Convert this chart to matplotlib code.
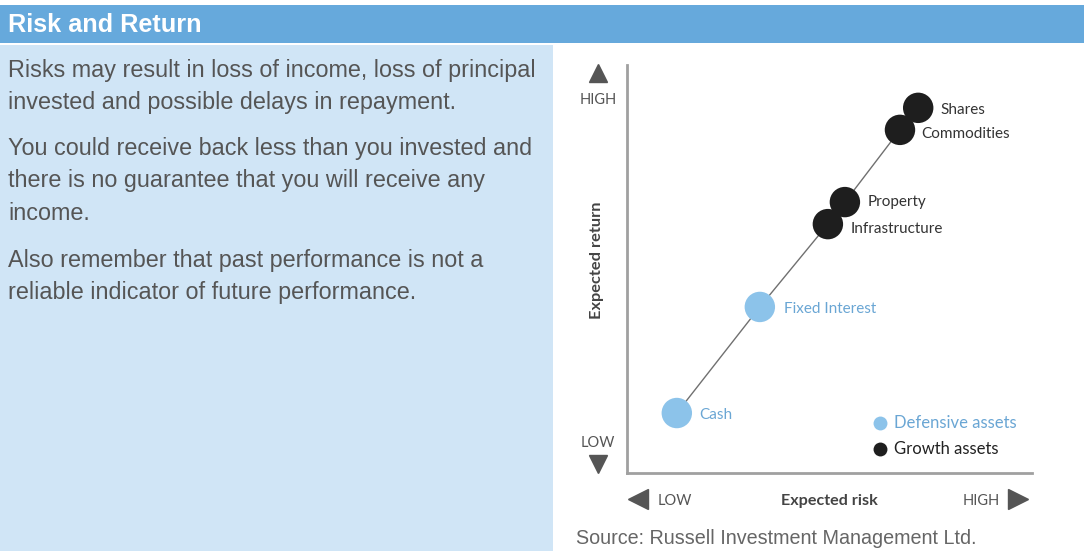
import matplotlib
matplotlib.use("Agg")
import matplotlib.pyplot as plt
from matplotlib.patches import Rectangle

# asset positions on the risk / return diagram (0-100 scale on both axes)
assets = ["Cash", "Fixed Interest", "Infrastructure", "Property", "Commodities", "Shares"]
risk = [12.3, 32.8, 49.6, 53.8, 67.4, 71.9]
ret = [14.7, 40.7, 61.0, 66.4, 84.1, 89.5]
group = ["Defensive", "Defensive", "Growth", "Growth", "Growth", "Growth"]

paragraphs = [
    ["Risks may result in loss of income, loss of principal",
     "invested and possible delays in repayment."],
    ["You could receive back less than you invested and",
     "there is no guarantee that you will receive any",
     "income."],
    ["Also remember that past performance is not a",
     "reliable indicator of future performance."],
]

HEADER = "#66a9dc"
PANEL = "#d0e5f6"
DEF_C = "#8cc3ea"
DEF_TXT = "#6aa6d4"
GROW_C = "#1e1e1e"
W, H = 1084, 551

fig = plt.figure(figsize=(W / 100, H / 100), dpi=100)
fig.patch.set_facecolor("white")

# header bar and left text panel
fig.patches.append(Rectangle((0, 1 - 43 / H), 1, 38 / H, transform=fig.transFigure,
                             facecolor=HEADER, edgecolor="none", zorder=0))
fig.patches.append(Rectangle((0, 0), 553 / W, 1 - 45 / H, transform=fig.transFigure,
                             facecolor=PANEL, edgecolor="none", zorder=0))
fig.text(8 / W, 1 - 25 / H, "Risk and Return", color="white", fontsize=18.2,
         fontweight="bold", family="Liberation Sans", va="center", ha="left")

y = 70
for para in paragraphs:
    for line in para:
        fig.text(8 / W, 1 - y / H, line, color="#555555", fontsize=16.8,
                 family="Liberation Sans", va="center", ha="left")
        y += 32
    y += 15

fig.text(576 / W, 1 - 538 / H, "Source: Russell Investment Management Ltd.",
         color="#666666", fontsize=14.25, family="Liberation Sans", va="center", ha="left")

# chart
ax = fig.add_axes([627 / W, (H - 473) / H, 405 / W, 408 / H])
ax.set_xlim(0, 100)
ax.set_ylim(0, 100)
ax.set_facecolor("none")
for s in ["top", "right"]:
    ax.spines[s].set_visible(False)
for s in ["left", "bottom"]:
    ax.spines[s].set_color("#a0a0a0")
    ax.spines[s].set_linewidth(2)
ax.set_xticks([])
ax.set_yticks([])

ax.plot(risk, ret, color="#707070", lw=1, zorder=1)
cols = [DEF_C if g == "Defensive" else GROW_C for g in group]
ax.scatter(risk, ret, s=480, c=cols, edgecolors="none", zorder=2)

font = "Lato"
label_off = {
    "Cash": (22, -2), "Fixed Interest": (24, -2), "Infrastructure": (23, -5),
    "Property": (23, 0), "Commodities": (21, -4), "Shares": (22, -2),
}
for name, xv, yv, g in zip(assets, risk, ret, group):
    dx, dy = label_off[name]
    ax.annotate(name, (xv, yv), xytext=(dx * 0.72, dy * 0.72), textcoords="offset points",
                va="center", ha="left", fontsize=11, family=font,
                color=DEF_TXT if g == "Defensive" else "#333333")

# legend
ax.plot([0.625], [0.1225], "o", ms=10, color=DEF_C, mec="none", transform=ax.transAxes, clip_on=False)
ax.plot([0.625], [0.0588], "o", ms=10, color=GROW_C, mec="none", transform=ax.transAxes, clip_on=False)
ax.text(0.659, 0.1225, "Defensive assets", color=DEF_TXT, fontsize=12, family=font,
        va="center", transform=ax.transAxes)
ax.text(0.659, 0.0588, "Growth assets", color="#222222", fontsize=12, family=font,
        va="center", transform=ax.transAxes)

# axis annotations
arrow_c = "#555555"
ax.plot([-0.0716], [0.980], "^", ms=13, color=arrow_c, transform=ax.transAxes, clip_on=False)
ax.plot([-0.0716], [0.022], "v", ms=13, color=arrow_c, transform=ax.transAxes, clip_on=False)
ax.text(-0.0716, 0.915, "HIGH", ha="center", va="center", fontsize=10.5, family=font,
        color="#555555", transform=ax.transAxes)
ax.text(-0.0716, 0.074, "LOW", ha="center", va="center", fontsize=10.5, family=font,
        color="#555555", transform=ax.transAxes)
ax.text(-0.074, 0.522, "Expected return", ha="center", va="center", rotation=90,
        fontsize=11.8, fontweight="bold", family=font, color="#444444", transform=ax.transAxes)

ax.plot([0.027], [-0.0637], "<", ms=15, color=arrow_c, transform=ax.transAxes, clip_on=False)
ax.plot([0.965], [-0.0637], ">", ms=15, color=arrow_c, transform=ax.transAxes, clip_on=False)
ax.text(0.0765, -0.0677, "LOW", ha="left", va="center", fontsize=10.5, family=font,
        color="#555555", transform=ax.transAxes)
ax.text(0.921, -0.0677, "HIGH", ha="right", va="center", fontsize=10.5, family=font,
        color="#555555", transform=ax.transAxes)
ax.text(0.499, -0.0677, "Expected risk", ha="center", va="center", fontsize=11.6,
        fontweight="bold", family=font, color="#444444", transform=ax.transAxes)

fig.savefig("out.png", dpi=100, facecolor=fig.get_facecolor())
